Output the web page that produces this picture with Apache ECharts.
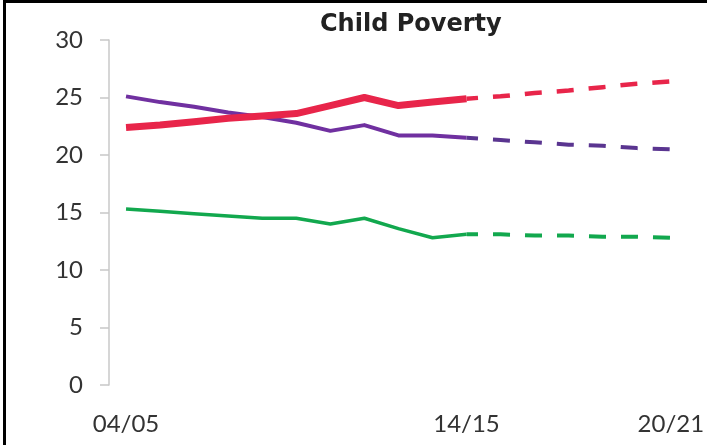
<!DOCTYPE html>
<html>
<head>
<meta charset="utf-8">
<script src="https://cdn.jsdelivr.net/npm/echarts@6/dist/echarts.min.js"></script>
<style>
html,body{margin:0;padding:0;background:#fff;}
#wrap{position:relative;width:707px;height:445px;overflow:hidden;}
#chart{position:absolute;left:0;top:0;width:707px;height:445px;}
#frame{position:absolute;left:3px;top:0;width:704px;height:445px;border-top:3px solid #000;border-left:3px solid #000;box-sizing:border-box;pointer-events:none;}
</style>
</head>
<body>
<div id="wrap"><div id="chart"></div><div id="frame"></div></div>
<script>
const categories = ['04/05','05/06','06/07','07/08','08/09','09/10','10/11','11/12','12/13','13/14','14/15','15/16','16/17','17/18','18/19','19/20','20/21'];
const shownLabels = ['04/05','14/15','20/21'];
const yTicks = [0,5,10,15,20,25,30];

const redActual    = [22.4,22.6,22.9,23.2,23.4,23.6,24.3,25.0,24.3,24.6,24.9,null,null,null,null,null,null];
const redProj      = [null,null,null,null,null,null,null,null,null,null,24.9,25.1,25.4,25.6,25.9,26.2,26.4];
const purpleActual = [25.1,24.6,24.2,23.7,23.3,22.8,22.1,22.6,21.7,21.7,21.5,null,null,null,null,null,null];
const purpleProj   = [null,null,null,null,null,null,null,null,null,null,21.5,21.3,21.1,20.9,20.8,20.6,20.5];
const greenActual  = [15.3,15.1,14.9,14.7,14.5,14.5,14.0,14.5,13.6,12.8,13.1,null,null,null,null,null,null];
const greenProj    = [null,null,null,null,null,null,null,null,null,null,13.1,13.1,13.0,13.0,12.9,12.9,12.8];

const RED = '#e8254a', PURPLE = '#7030a0', PURPLE_D = '#5a3590', GREEN = '#12a84e';
const dash = [17, 15];

function solid(data, color, width){
  return {type:'line', data, showSymbol:false, symbol:'none', silent:true, animation:false,
    lineStyle:{color, width, cap:'butt', join:'round'}};
}
function dashed(data, color, width){
  return {type:'line', data, showSymbol:false, symbol:'none', silent:true, animation:false,
    lineStyle:{color, width, type:dash, dashOffset:5.5, cap:'butt'}};
}

const chart = echarts.init(document.getElementById('chart'), null, {renderer:'canvas'});
chart.setOption({
  backgroundColor:'#ffffff',
  animation:false,
  title:{
    text:'Child Poverty', left:315, top:8,
    textStyle:{fontFamily:'DejaVu Sans', fontWeight:'bold', fontSize:24, color:'#222'}
  },
  grid:{left:109, right:16, top:40, bottom:60, containLabel:false},
  xAxis:{
    type:'category', data:categories, boundaryGap:true,
    axisLine:{show:false}, axisTick:{show:false}, splitLine:{show:false},
    axisLabel:{
      interval:function(i, v){ return shownLabels.indexOf(v) >= 0; },
      margin:27, fontFamily:'Lato', fontSize:24, color:'#333'
    }
  },
  yAxis:{
    type:'value', min:yTicks[0], max:yTicks[yTicks.length-1], interval:5,
    axisLine:{show:true, lineStyle:{color:'#c8c8c8', width:1.5}},
    axisTick:{show:true, inside:false, length:9, lineStyle:{color:'#c8c8c8', width:1.5}},
    splitLine:{show:false},
    axisLabel:{margin:26, fontFamily:'Lato', fontSize:24, color:'#333'}
  },
  series:[
    solid(greenActual, GREEN, 3.5),
    dashed(greenProj, GREEN, 4),
    solid(purpleActual, PURPLE, 4),
    dashed(purpleProj, PURPLE_D, 4),
    solid(redActual, RED, 7),
    dashed(redProj, RED, 4.5)
  ]
});
</script>
</body>
</html>
